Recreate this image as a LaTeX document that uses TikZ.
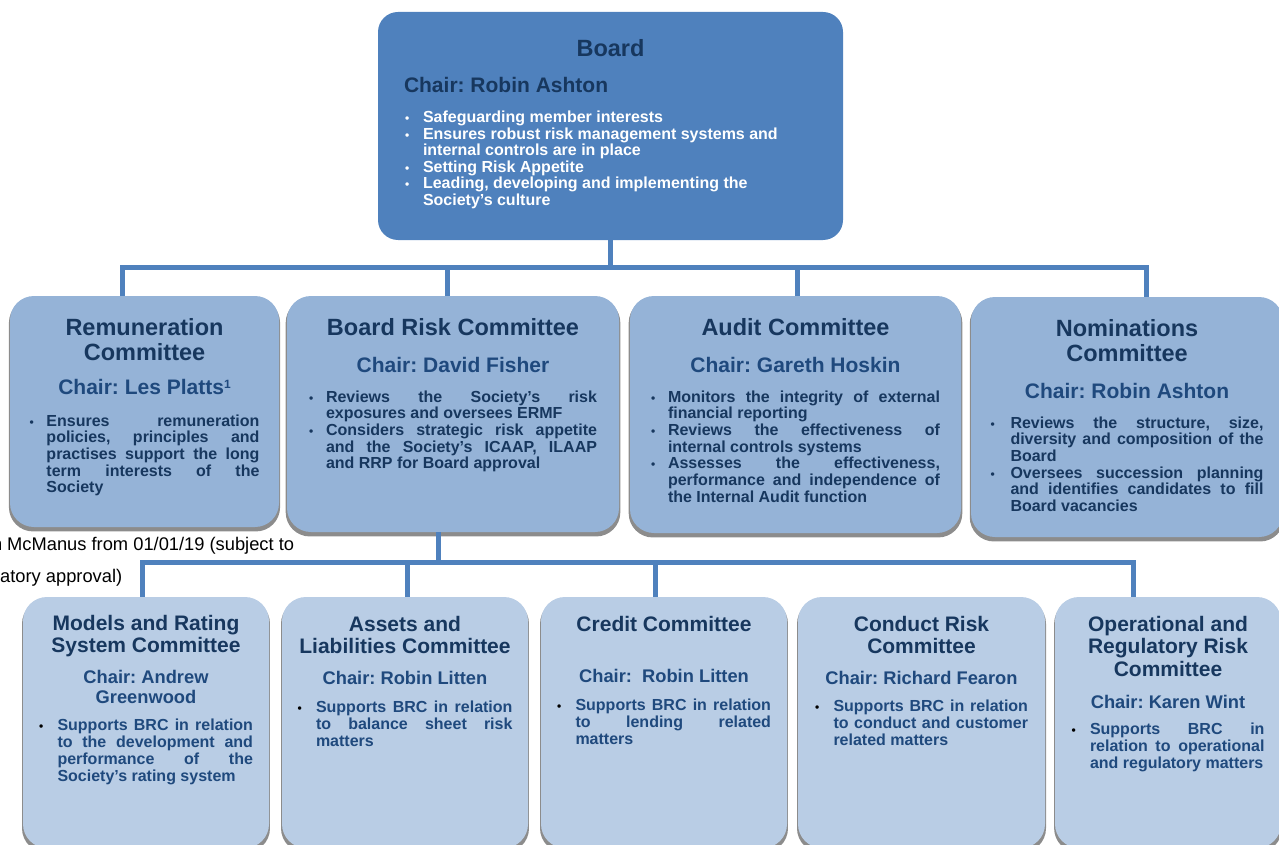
\documentclass[tikz,border=0pt]{standalone}
\usepackage{fontspec}
\setmainfont{Liberation Sans}
\usepackage{xcolor}
\usetikzlibrary{positioning,shadows}

\definecolor{boardfill}{HTML}{4F81BD}
\definecolor{cmtefill}{HTML}{95B3D7}
\definecolor{subfill}{HTML}{B9CDE5}
\definecolor{navy}{HTML}{17375E}
\definecolor{chairblue}{HTML}{1F497D}

\hyphenpenalty=10000
\exhyphenpenalty=10000
\tolerance=10000
\frenchspacing

\newlength{\bhang}
\setlength{\bhang}{17pt}
\let\bcol\relax
\newcommand{\bpoint}{\par\hangindent=\bhang\hangafter=1\noindent
  \makebox[\bhang][l]{\bcol\fontsize{12}{12}\selectfont\textbullet}}

\begin{document}
\begin{tikzpicture}[x=1pt,y=-1pt]
  \tikzset{boardbox/.style = {rectangle, rounded corners=20pt, fill=boardfill, inner sep=0pt},
           cmtebox/.style  = {rectangle, rounded corners=24pt, fill=cmtefill, inner sep=0pt,
                              drop shadow={shadow xshift=0pt, shadow yshift=-3.5pt,
                                           shadow scale=1.008, fill=gray, opacity=0.9}},
           subbox/.style   = {cmtebox, fill=subfill},
           maintitle/.style = {inner sep=0pt, align=center, text=navy,
                               font=\fontsize{23.5}{25}\selectfont\bfseries},
           subtitle/.style  = {inner sep=0pt, align=center, text=navy,
                               font=\fontsize{21}{22.6}\selectfont\bfseries},
           mainchair/.style = {inner sep=0pt, align=center, text=chairblue,
                               font=\fontsize{21}{23}\selectfont\bfseries},
           subchair/.style  = {inner sep=0pt, align=center, text=chairblue,
                               font=\fontsize{18.3}{20}\selectfont\bfseries},
           mainpoints/.style = {inner sep=0pt, text=navy,
                                font=\fontsize{16}{16.7}\selectfont\bfseries\setlength{\bhang}{17pt}},
           subpoints/.style  = {inner sep=0pt, text=chairblue,
                                font=\fontsize{16}{17}\selectfont\bfseries\setlength{\bhang}{18.5pt}\def\bcol{\color{black}}},
           link/.style = {draw=boardfill, line width=5pt},
           note/.style = {inner sep=0pt, font=\fontsize{18.3}{20}\selectfont}}

  \clip (0,0) rectangle (1279,845);
  \useasboundingbox (0,0) rectangle (1279,845);

%part board
\node[boardbox, minimum width=465pt, minimum height=228pt] (board) at (610.5,126) {};
\node[maintitle, below=27pt of board.north] (board-t) {Board};
\node[mainchair, text=navy, anchor=north west] (board-c) at ([xshift=26pt,yshift=-65pt]board.north west) {Chair: Robin Ashton};
\node[mainpoints, text=white, anchor=north west,
      font=\fontsize{16}{16.5}\selectfont\bfseries\setlength{\bhang}{18pt}] (board-p)
      at ([xshift=27pt,yshift=-99pt]board.north west)
  {\parbox{388pt}{\raggedright
   \bpoint Safeguarding member interests
   \bpoint Ensures robust risk management systems and\linebreak internal controls are in place
   \bpoint Setting Risk Appetite
   \bpoint Leading, developing and implementing the\linebreak Society’s culture\par}};

%part remuneration
\node[cmtebox, minimum width=269pt, minimum height=231pt] (rem) at (144.5,411.5) {};
\node[maintitle, below=22pt of rem.north] (rem-t) {Remuneration\\Committee};
\node[mainchair, below=19pt of rem-t] (rem-c) {Chair: Les Platts\raisebox{6pt}{\fontsize{12}{12}\selectfont 1}};
\node[mainpoints, below=19pt of rem-c] (rem-p)
  {\parbox{230pt}{\bpoint Ensures remuneration\linebreak policies, principles and\linebreak practises support the long\linebreak term interests of the\linebreak Society\par}};

%part board risk committee
\node[cmtebox, minimum width=332pt, minimum height=236pt] (brc) at (453,414) {};
\node[maintitle, below=22pt of brc.north] (brc-t) {Board Risk Committee};
\node[mainchair, below=22pt of brc-t] (brc-c) {Chair: David Fisher};
\node[mainpoints, below=17pt of brc-c] (brc-p)
  {\parbox{288pt}{\bpoint Reviews the Society’s risk\linebreak exposures and oversees ERMF
   \bpoint Considers strategic risk appetite\linebreak and the Society's ICAAP, ILAAP\linebreak and RRP for Board approval\par}};

%part audit
\node[cmtebox, minimum width=331pt, minimum height=237pt] (aud) at (795.5,414.5) {};
\node[maintitle, below=22pt of aud.north] (aud-t) {Audit Committee};
\node[mainchair, below=22pt of aud-t] (aud-c) {Chair: Gareth Hoskin};
\node[mainpoints, below=17pt of aud-c] (aud-p)
  {\parbox{289pt}{\bpoint Monitors the integrity of external\linebreak financial reporting
   \bpoint Reviews the effectiveness of\linebreak internal controls systems
   \bpoint Assesses the effectiveness,\linebreak performance and independence of\linebreak the Internal Audit function\par}};

%part nominations
\node[cmtebox, minimum width=312pt, minimum height=240pt] (nom) at (1127,417) {};
\node[maintitle, below=22pt of nom.north] (nom-t) {Nominations\\Committee};
\node[mainchair, below=22pt of nom-t] (nom-c) {Chair: Robin Ashton};
\node[mainpoints, below=17pt of nom-c,
      font=\fontsize{16}{16.7}\selectfont\bfseries\setlength{\bhang}{20pt}] (nom-p)
  {\parbox{273pt}{\bpoint Reviews the structure, size,\linebreak diversity and composition of the\linebreak Board
   \bpoint Oversees succession planning\linebreak and identifies candidates to fill\linebreak Board vacancies\par}};

%part models and rating
\node[subbox, minimum width=246pt, minimum height=251pt] (mrs) at (146,722.5) {};
\node[subtitle, below=18pt of mrs.north] (mrs-t) {Models and Rating\\System Committee};
\node[subchair, below=13pt of mrs-t] (mrs-c) {Chair: Andrew\\Greenwood};
\node[subpoints, below=14pt of mrs-c] (mrs-p)
  {\parbox{214pt}{\bpoint Supports BRC in relation\linebreak to the development and\linebreak performance of the\linebreak Society's rating system\par}};

%part assets and liabilities
\node[subbox, minimum width=246pt, minimum height=251pt] (alc) at (405,722.5) {};
\node[subtitle, below=19pt of alc.north] (alc-t) {Assets and\\Liabilities Committee};
\node[subchair, below=17pt of alc-t] (alc-c) {Chair: Robin Litten};
\node[subpoints, below=16pt of alc-c] (alc-p)
  {\parbox{215pt}{\bpoint Supports BRC in relation\linebreak to balance sheet risk\linebreak matters\par}};

%part credit
\node[subbox, minimum width=246pt, minimum height=251pt] (crd) at (664,722.5) {};
\node[subtitle, below=19pt of crd.north] (crd-t) {Credit Committee};
\node[subchair, below=37pt of crd-t] (crd-c) {Chair:\ \ Robin Litten};
\node[subpoints, below=16pt of crd-c] (crd-p)
  {\parbox{214pt}{\bpoint Supports BRC in relation\linebreak to lending related\linebreak matters\par}};

%part conduct risk
\node[subbox, minimum width=247pt, minimum height=251pt] (cnd) at (921.5,722.5) {};
\node[subtitle, below=19pt of cnd.north] (cnd-t) {Conduct Risk\\Committee};
\node[subchair, below=17pt of cnd-t] (cnd-c) {Chair: Richard Fearon};
\node[subpoints, below=15pt of cnd-c] (cnd-p)
  {\parbox{213pt}{\bpoint Supports BRC in relation\linebreak to conduct and customer\linebreak related matters\par}};

%part operational and regulatory risk
\node[subbox, minimum width=226pt, minimum height=251pt] (orr) at (1168,722.5) {};
\node[subtitle, below=19pt of orr.north] (orr-t) {Operational and\\Regulatory Risk\\Committee};
\node[subchair, below=18pt of orr-t] (orr-c) {Chair: Karen Wint};
\node[subpoints, below=14pt of orr-c] (orr-p)
  {\parbox{193pt}{\bpoint Supports BRC in\linebreak relation to operational\linebreak and regulatory matters\par}};

%part footnote
\node[note, anchor=base west] (fn-a) at (-8.2,550) {n McManus from 01/01/19 (subject to};
\node[note, anchor=base west] (fn-b) at (0,582) {atory approval)};

%part links
\coordinate (bus1) at (610.5,267);
\coordinate (bus2) at (438,562);
\draw[link] (board.south) -- (bus1);
\draw[link] (rem.north -| 122,0) |- (bus1) -| (nom.north -| 1146,0);
\draw[link] (brc.north -| 447,0) -- (bus1 -| 447,0);
\draw[link] (aud.north -| 797,0) -- (bus1 -| 797,0);

\draw[link] (brc.south -| bus2) -- (bus2);
\draw[link] (mrs.north -| 142,0) |- (bus2) -| (orr.north -| 1133,0);
\draw[link] (alc.north -| 407,0) -- (bus2 -| 407,0);
\draw[link] (crd.north -| 655,0) -- (bus2 -| 655,0);

\end{tikzpicture}
\end{document}
